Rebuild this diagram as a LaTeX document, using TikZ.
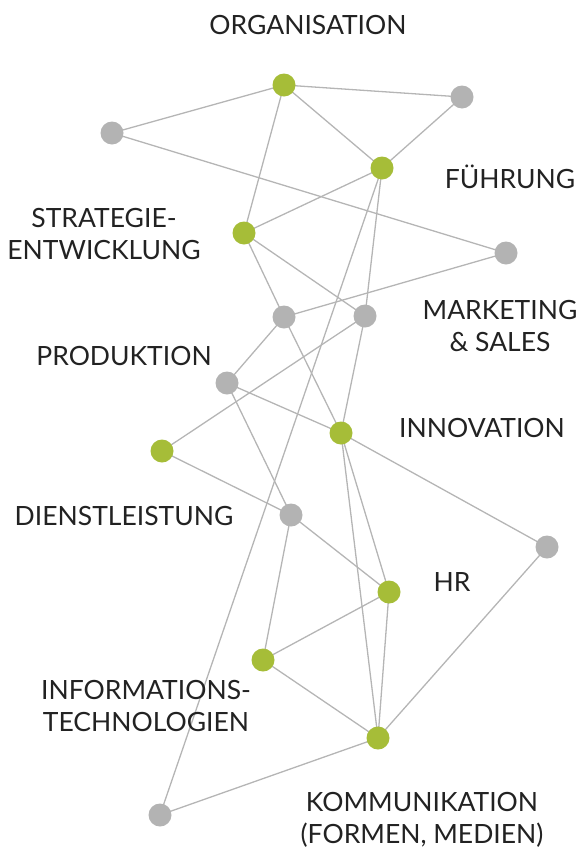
\documentclass[tikz,border=0pt]{standalone}
\usepackage{fontspec}
\setmainfont{Lato}
\definecolor{nodegreen}{HTML}{A6BD38}
\definecolor{nodegrey}{HTML}{B3B3B3}
\definecolor{linegrey}{HTML}{B5B5B5}
\definecolor{textdark}{HTML}{222222}
\begin{document}
\begin{tikzpicture}[x=1pt,y=-1pt,
  gnode/.style={circle,fill=nodegreen,minimum size=23pt,inner sep=0pt},
  rnode/.style={circle,fill=nodegrey,minimum size=23pt,inner sep=0pt},
  link/.style={draw=linegrey,line width=1.3pt},
  lbl/.style={text=textdark,font=\fontsize{26.5}{32}\selectfont,align=center,inner sep=0pt}]
\useasboundingbox (0,0) rectangle (578,849);
% node coordinates
\coordinate (O) at (284,85);
\coordinate (G1) at (462,97);
\coordinate (G2) at (112,133);
\coordinate (F) at (382,168);
\coordinate (S) at (244,233);
\coordinate (G3) at (506,253);
\coordinate (G4) at (284,317);
\coordinate (G5) at (365,316);
\coordinate (P) at (227,383);
\coordinate (I) at (341,433);
\coordinate (D) at (162,451);
\coordinate (G6) at (291,515);
\coordinate (G7) at (547,547);
\coordinate (HR) at (389,592);
\coordinate (IT) at (263,660);
\coordinate (K) at (378,738);
\coordinate (G8) at (160,815);
% connectors
\foreach \a/\b in {O/G1,O/G2,O/F,O/S,G1/F,G2/G3,F/S,F/G8,F/G5,S/G4,S/G5,G3/G4,G4/P,G4/I,G5/D,G5/I,P/I,P/G6,D/G6,G6/HR,G6/IT,I/G7,I/HR,I/K,HR/IT,HR/K,IT/K,G7/K,K/G8}
  \draw[link] (\a) -- (\b);
% circles
\foreach \n in {O,F,S,I,D,HR,IT,K}
  \node[gnode] (n\n) at (\n) {};
\foreach \n in {G1,G2,G3,G4,G5,P,G6,G7,G8}
  \node[rnode] (n\n) at (\n) {};
% labels
\node[lbl] (tO) at (308,25) {ORGANISATION};
\node[lbl] (tF) at (510,177) {FÜHRUNG};
\node[lbl] (tS) at (104,234) {STRATEGIE-\\ENTWICKLUNG};
\node[lbl] (tM) at (500,326) {MARKETING\\\& SALES};
\node[lbl] (tP) at (124,356) {PRODUKTION};
\node[lbl] (tI) at (482,428) {INNOVATION};
\node[lbl] (tD) at (124,516) {DIENSTLEISTUNG};
\node[lbl] (tH) at (452,582) {HR};
\node[lbl] (tT) at (146,706) {INFORMATIONS-\\TECHNOLOGIEN};
\node[lbl] (tK) at (422,820) {KOMMUNIKATION\\(FORMEN, MEDIEN)};
\end{tikzpicture}
\end{document}
